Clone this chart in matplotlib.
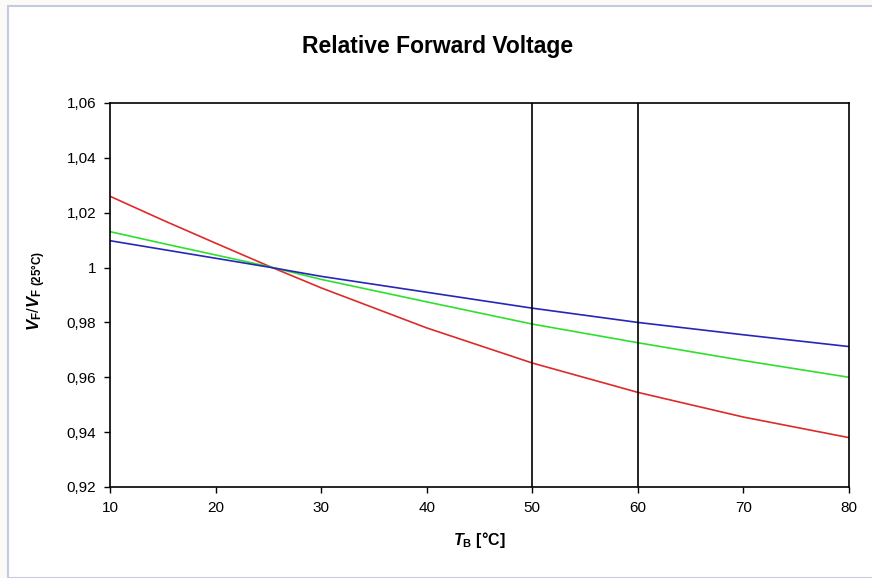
import matplotlib
matplotlib.use('Agg')
import matplotlib.pyplot as plt
from matplotlib.patches import Rectangle
from matplotlib.ticker import FuncFormatter

plt.rcParams['font.family'] = ['Liberation Sans', 'DejaVu Sans']
plt.rcParams['mathtext.fontset'] = 'custom'
plt.rcParams['mathtext.rm'] = 'Liberation Sans'
plt.rcParams['mathtext.bf'] = 'Liberation Sans:bold'
plt.rcParams['mathtext.it'] = 'Liberation Sans:italic'
plt.rcParams['mathtext.bfit'] = 'Liberation Sans:bold:italic'

# data
temp = [10, 15, 20, 25, 30, 40, 50, 60, 70, 80]
vf_red = [1.026, 1.0173, 1.0089, 1.0006, 0.9926, 0.978, 0.9652, 0.9545, 0.9455, 0.938]
vf_green = [1.0131, 1.0088, 1.0046, 1.0004, 0.9957, 0.9875, 0.9794, 0.9726, 0.9661, 0.960]
vf_blue = [1.0098, 1.0066, 1.0034, 1.0002, 0.9968, 0.991, 0.9852, 0.980, 0.9755, 0.9712]
marker_temps = [50, 60]
yticks = [0.92, 0.94, 0.96, 0.98, 1.0, 1.02, 1.04, 1.06]
xticks = [10, 20, 30, 40, 50, 60, 70, 80]

fig = plt.figure(figsize=(8.72, 5.78), dpi=100)
fig.patch.set_facecolor('#fbfaf6')
fig.patches.append(Rectangle((8 / 872, 0), 1.0, 1 - 6 / 578, transform=fig.transFigure,
                             facecolor='white', edgecolor='#c4cae2', linewidth=1.5,
                             zorder=-10))

ax = fig.add_axes([110 / 872, 1 - 487 / 578, 739 / 872, 384 / 578])
ax.set_facecolor('white')
ax.plot(temp, vf_red, color='#dd2a2a', lw=1.2)
ax.plot(temp, vf_green, color='#2ee02e', lw=1.2)
ax.plot(temp, vf_blue, color='#2626b8', lw=1.2)
for t in marker_temps:
    ax.axvline(t, color='black', lw=1.2)

ax.set_xlim(10, 80)
ax.set_ylim(0.92, 1.06)
ax.set_xticks(xticks)
ax.set_yticks(yticks)
ax.yaxis.set_major_formatter(FuncFormatter(lambda v, p: ('%g' % round(v, 2)).replace('.', ',')))
ax.tick_params(direction='out', length=4, width=1, labelsize=11, pad=6)
for s in ax.spines.values():
    s.set_linewidth(1.2)

fig.text(438 / 872, 1 - 46 / 578, 'Relative Forward Voltage', ha='center', va='center',
         fontsize=16.5, fontweight='bold')
fig.text(479 / 872, 1 - 540 / 578, r'$\mathbfit{T}_\mathbf{B}\ \mathbf{[°C]}$',
         ha='center', va='center', fontsize=11.5)
fig.text(37 / 872, 1 - 291 / 578, r'$\mathbfit{V}_\mathbf{F}/\mathbfit{V}_\mathbf{F\ (25°C)}$',
         ha='center', va='center', rotation=90, fontsize=12)

fig.savefig('out.png', dpi=100, facecolor=fig.get_facecolor())
